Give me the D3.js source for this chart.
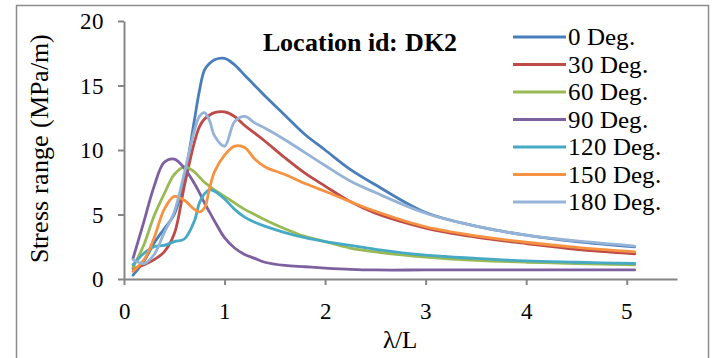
<!DOCTYPE html>
<html>
<head>
<meta charset="utf-8">
<script src="https://cdn.jsdelivr.net/npm/d3@7"></script>
<style>
  @font-face { font-family: 'ChartSerif'; src: local('Liberation Serif'), local('LiberationSerif'); font-weight: normal; }
  @font-face { font-family: 'ChartSerif'; src: local('Liberation Serif Bold'), local('LiberationSerif-Bold'); font-weight: bold; }
  body { margin: 0; background: #fff; }
  #fig text { font-family: 'ChartSerif', 'Liberation Serif', serif; }
</style>
</head>
<body>
<svg id="fig" width="718" height="358"></svg>
<script>
// wave length ratio (λ/L)
var lambdaL = [0.09, 0.2, 0.3, 0.4, 0.5, 0.6, 0.7, 0.75, 0.8, 0.85, 0.9, 1.0, 1.1, 1.2, 1.3, 1.4, 1.6, 1.8, 2.0, 2.25, 2.5, 3.0, 3.5, 4.0, 4.5, 5.08];

var seriesNames = ['0 Deg.', '30 Deg.', '60 Deg.', '90 Deg.', '120 Deg.', '150 Deg.', '180 Deg.'];
var seriesColors = ['#4a7ebb', '#be4b48', '#98b954', '#7d60a0', '#46aac5', '#f69240', '#95b3d7'];

var deg0   = [0.3, 1.4, 2.8, 3.9, 5.0, 7.8, 12.3, 14.6, 16.2, 16.7, 17.0, 17.1, 16.6, 15.8, 15.0, 14.2, 12.7, 11.2, 10.0, 8.5, 7.3, 5.15, 4.1, 3.4, 2.9, 2.5];
var deg30  = [0.8, 1.1, 1.5, 2.1, 3.5, 7.2, 10.6, 11.8, 12.4, 12.7, 12.9, 12.95, 12.6, 11.9, 11.3, 10.7, 9.4, 8.2, 7.2, 6.0, 5.1, 3.95, 3.25, 2.75, 2.3, 1.95];
var deg60  = [0.9, 2.7, 4.9, 6.6, 8.1, 8.7, 8.3, 7.9, 7.5, 7.2, 6.9, 6.4, 5.9, 5.4, 5.0, 4.6, 3.9, 3.3, 2.9, 2.4, 2.1, 1.7, 1.45, 1.3, 1.2, 1.1];
var deg90  = [1.6, 4.5, 7.2, 9.05, 9.3, 8.6, 7.4, 6.7, 5.9, 5.2, 4.5, 3.2, 2.4, 1.9, 1.6, 1.3, 1.05, 0.95, 0.85, 0.75, 0.7, 0.7, 0.7, 0.7, 0.7, 0.7];
var deg120 = [1.1, 2.0, 2.5, 2.6, 2.9, 3.1, 4.5, 5.9, 6.6, 6.9, 6.8, 6.2, 5.4, 4.8, 4.4, 4.1, 3.6, 3.2, 2.9, 2.6, 2.3, 1.85, 1.6, 1.4, 1.3, 1.2];
var deg150 = [0.6, 1.5, 3.2, 5.4, 6.4, 6.1, 5.4, 5.2, 5.5, 7.0, 8.3, 9.6, 10.3, 10.2, 9.3, 8.7, 8.1, 7.4, 6.8, 6.0, 5.25, 4.05, 3.35, 2.85, 2.45, 2.1];
var deg180 = [1.5, 1.2, 1.9, 3.6, 5.2, 8.2, 11.5, 12.6, 12.9, 12.3, 11.1, 10.3, 12.2, 12.6, 12.1, 11.7, 10.8, 9.8, 8.8, 7.6, 6.7, 5.1, 4.1, 3.4, 2.95, 2.55];

var allSeries = [deg0, deg30, deg60, deg90, deg120, deg150, deg180];

var xTicks = [0, 1, 2, 3, 4, 5];
var yTicks = [0, 5, 10, 15, 20];

var svg = d3.select('#fig');
var axisColor = '#868686';

// outer frame
svg.append('rect')
    .attr('x', 16.5).attr('y', 5.5)
    .attr('width', 692).attr('height', 400)
    .attr('fill', 'none')
    .attr('stroke', '#8c8c8c')
    .attr('stroke-width', 1.5);

var x = d3.scaleLinear().domain([0, 5.5]).range([124, 677]);
var y = d3.scaleLinear().domain([0, 20]).range([279, 21]);

// axes
var gx = svg.append('g')
    .attr('transform', 'translate(0,' + y(0) + ')')
    .call(d3.axisBottom(x).tickValues(xTicks).tickFormat(d3.format('d'))
        .tickSizeInner(6).tickSizeOuter(0).tickPadding(12));
var gy = svg.append('g')
    .attr('transform', 'translate(' + x(0) + ',0)')
    .call(d3.axisLeft(y).tickValues(yTicks).tickFormat(d3.format('d'))
        .tickSizeInner(6).tickSizeOuter(0).tickPadding(14));

[gx, gy].forEach(function(g) {
    g.attr('font-family', null).attr('font-size', null);
    g.select('.domain').attr('stroke', axisColor).attr('stroke-width', 2);
    g.selectAll('.tick line').attr('stroke', axisColor).attr('stroke-width', 2);
    g.selectAll('.tick text')
        .attr('fill', '#000')
        .style('font-size', '23px');
});
gx.selectAll('.tick text').attr('dy', '0.95em');
gy.selectAll('.tick text').attr('dy', '0.34em');

// axis titles
svg.append('text')
    .attr('transform', 'translate(48,148) rotate(-90)')
    .attr('text-anchor', 'middle')
    .style('font-size', '26px')
    .text('Stress range (MPa/m)');

svg.append('text')
    .attr('x', 400).attr('y', 348)
    .attr('text-anchor', 'middle')
    .style('font-size', '25px')
    .text('λ/L');

// chart title
svg.append('text')
    .attr('x', 263).attr('y', 51)
    .style('font-size', '26px')
    .style('font-weight', 'bold')
    .text('Location id: DK2');

// lines
var line = d3.line()
    .x(function(d, i) { return x(lambdaL[i]); })
    .y(function(d) { return y(d); })
    .curve(d3.curveCatmullRom.alpha(0.5));

svg.selectAll('.series')
    .data(allSeries)
    .enter()
    .append('path')
    .attr('class', 'series')
    .attr('d', line)
    .attr('fill', 'none')
    .attr('stroke', function(d, i) { return seriesColors[i]; })
    .attr('stroke-width', 2.8)
    .attr('stroke-linejoin', 'round')
    .attr('stroke-linecap', 'round');

// legend
var legend = svg.append('g');
seriesNames.forEach(function(name, i) {
    var ly = 37 + i * 27.5;
    legend.append('line')
        .attr('x1', 513).attr('x2', 566)
        .attr('y1', ly).attr('y2', ly)
        .attr('stroke', seriesColors[i])
        .attr('stroke-width', 2.8);
    legend.append('text')
        .attr('x', 568).attr('y', ly + 8)
        .style('font-size', '25px')
        .text(name);
});
</script>
</body>
</html>
